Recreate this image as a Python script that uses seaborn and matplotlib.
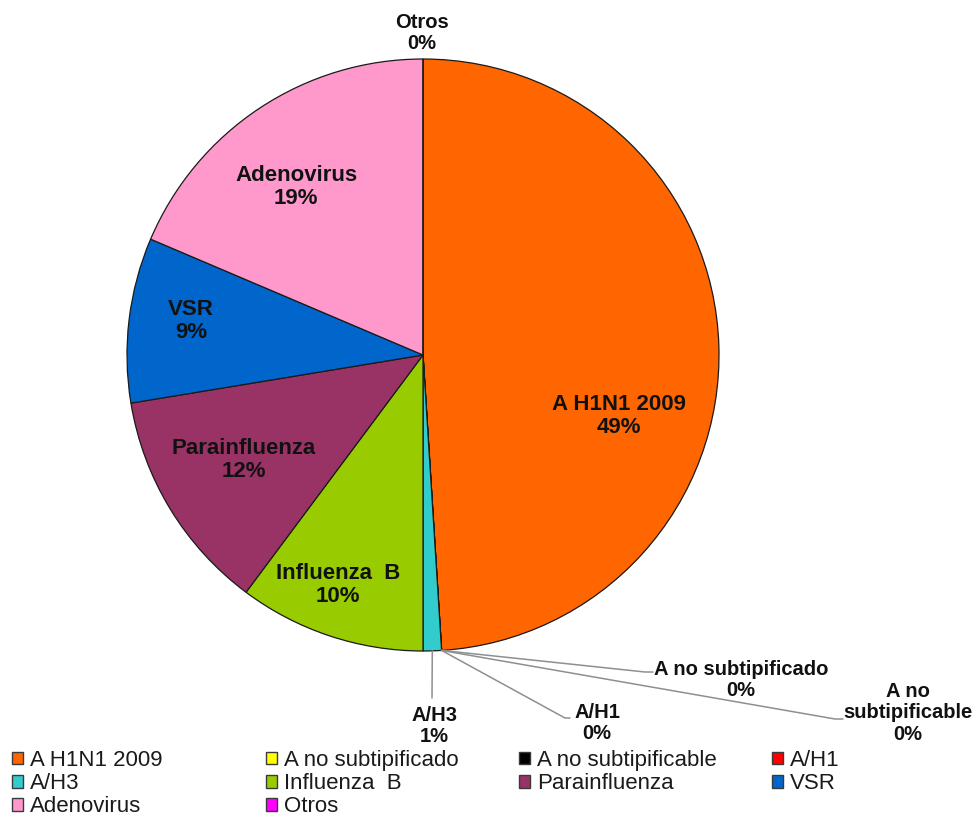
import numpy as np
import matplotlib
matplotlib.use("Agg")
import matplotlib.pyplot as plt
from matplotlib.patches import Patch
import seaborn as sns

# ---- data ----
categories = ["A H1N1 2009", "A no subtipificado", "A no subtipificable", "A/H1", "A/H3",
              "Influenza  B", "Parainfluenza", "VSR", "Adenovirus", "Otros"]
percentages = [49.0, 0.0, 0.0, 0.0, 1.0, 10.2, 12.2, 9.0, 18.6, 0.0]
slice_colors = ["#FF6600", "#FFFF00", "#000000", "#FF0000", "#33CCCC",
                "#99CC00", "#993366", "#0066CC", "#FF99CC", "#FF00FF"]

sns.set_theme(style="white")
plt.rcParams["font.family"] = ["Liberation Sans", "DejaVu Sans"]

# ---- layout (pixels) ----
W, H = 977, 825
CX, CY, R = 423, 355, 296


def px(x, y):
    return ((x - CX) / R, (CY - y) / R)


label_px = {
    "A H1N1 2009": (619, 416),
    "Adenovirus": (296, 187),
    "VSR": (191, 321),
    "Parainfluenza": (244, 460),
    "Influenza  B": (338, 585),
    "Otros": (422, 33),
    "A/H3": (434, 726),
    "A/H1": (597, 723),
    "A no subtipificado": (741, 680),
    "A no subtipificable": (908, 713),
}
inside = {"A H1N1 2009", "Adenovirus", "VSR", "Parainfluenza", "Influenza  B"}
leader_px = {
    "A/H3": [(432, 698)],
    "A/H1": [(565, 718), (570, 718)],
    "A no subtipificado": [(645, 672), (653, 672)],
    "A no subtipificable": [(835, 719), (843, 719)],
}
label_text = {"A no subtipificable": "A no\nsubtipificable"}

fig = plt.figure(figsize=(W / 100, H / 100), dpi=100)
ax = fig.add_axes([0, 0, 1, 1])
palette = sns.color_palette(slice_colors)
wedges, _ = ax.pie(percentages, colors=palette, startangle=90, counterclock=False,
                   radius=1.0, wedgeprops=dict(edgecolor="#1a1a1a", linewidth=0.9))
ax.set_xlim(-CX / R, (W - CX) / R)
ax.set_ylim((CY - H) / R, CY / R)
ax.set_aspect("equal")
ax.axis("off")

total = sum(percentages)
for w, name, val in zip(wedges, categories, percentages):
    pct = round(val / total * 100)
    name_txt = label_text.get(name, name)
    lx, ly = px(*label_px[name])
    ax.text(lx, ly, f"{name_txt}\n{pct:.0f}%", ha="center", va="center",
            fontsize=16 if name in inside else 14.5, fontweight="bold",
            color="#111111", linespacing=1.15, zorder=5)
    if name in leader_px:
        th = np.deg2rad((w.theta1 + w.theta2) / 2)
        pts = [(np.cos(th), np.sin(th))] + [px(*p) for p in leader_px[name]]
        xs, ys = zip(*pts)
        ax.plot(xs, ys, color="#8f8f8f", lw=1.1, zorder=4)

# ---- legend: row-major, 4 evenly spaced columns ----
col_x = [12, 266, 519, 772]
for c in range(4):
    idx = list(range(c, len(categories), 4))
    handles = [Patch(facecolor=palette[i], edgecolor="#3a3a3a", linewidth=1.0) for i in idx]
    labels = [categories[i] for i in idx]
    fig.legend(handles, labels, loc="upper left",
               bbox_to_anchor=(col_x[c] / W, 1 - 750 / H), frameon=False,
               fontsize=16, handlelength=0.5, handleheight=0.5,
               handletextpad=0.3, labelspacing=0.1, borderpad=0, borderaxespad=0,
               labelcolor="#1a1a1a")

fig.savefig("out.png", dpi=100)
